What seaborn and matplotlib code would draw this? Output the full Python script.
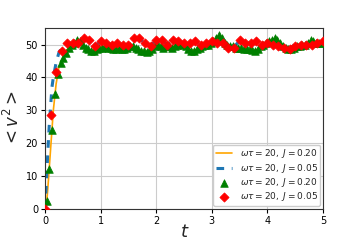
import numpy as np
import pandas as pd
import matplotlib
matplotlib.use("Agg")
import matplotlib.pyplot as plt
import seaborn as sns

# line series (J=0.20 orange solid, J=0.05 blue dashed)
t_line = [0, 0.025, 0.05, 0.075, 0.1, 0.125, 0.15, 0.2, 0.25, 0.3, 0.35, 0.4,
          0.5, 0.6, 0.7, 0.8, 0.9, 1.0, 1.1, 1.2, 1.3, 1.4, 1.5, 1.6, 1.7, 1.8, 1.9,
          2.0, 2.1, 2.2, 2.3, 2.4, 2.5, 2.6, 2.7, 2.8, 2.9, 3.0, 3.1, 3.2, 3.3, 3.4,
          3.5, 3.6, 3.7, 3.8, 3.9, 4.0, 4.1, 4.2, 4.3, 4.4, 4.5, 4.6, 4.7, 4.8, 4.9, 5.0]
orange_line = [0, 1, 6, 12, 18, 24, 30, 38, 43, 45, 47, 48.5,
               50, 51.2, 49.5, 48.2, 48.3, 49, 49.3, 48.8, 48.7, 48.6, 49.2, 49.3, 48.3, 47.9, 48.2,
               49.7, 49.3, 49.5, 49.2, 50.2, 49.8, 48.3, 48.2, 49.2, 50, 50.7, 52.3, 51.3, 49.8, 49.3,
               49, 48.5, 48.3, 48.2, 49.7, 50.7, 51.7, 51, 49.3, 48.5, 49.2, 49.7, 50.2, 51.3, 50.5, 50.5]
blue_line = [0, 8, 17, 25, 31, 37, 40, 44.5, 47.5, 49, 49.8, 50.3,
             50.3, 50.4, 51.5, 51.2, 49.8, 50.7, 50.4, 50, 50.3, 50, 50, 51.5, 51.6, 50.5, 49.8,
             51.2, 51.2, 50.1, 51.2, 50.8, 50.4, 50.4, 50.8, 50.1, 50.4, 50.8, 50.5, 50.4, 49.3, 49.3,
             51.1, 50.5, 50.4, 50.8, 50.1, 50.4, 50, 49.7, 49.4, 49.9, 49.6, 50, 50, 50.1, 50.4, 50.8]

# marker series
t_green = np.round(np.arange(0.03, 5.0, 0.05), 3)
green_vals = [2.5, 12, 24, 35, 41, 44.5, 46, 47.5, 49, 50,
              50.5, 51.5, 51, 50, 49, 48.5, 48, 48, 48.5, 49,
              49, 49.5, 49, 49, 48.5, 48.5, 49, 48.5, 48.5, 49,
              49.5, 49.5, 49, 48.5, 48, 48, 47.8, 48, 48.5, 49.5,
              50, 49.5, 49, 49.5, 49.5, 49, 49.5, 50, 50.5, 50,
              49.5, 48.5, 48, 48, 48.5, 49, 49.5, 50, 50, 50.5,
              51, 52, 52.8, 52, 50.5, 50, 49.5, 49.5, 49, 49,
              49, 48.5, 48.5, 48.5, 48.2, 48, 48.5, 49.5, 50, 50.5,
              51, 51.5, 52, 51.5, 50.5, 49.5, 49, 48.5, 48.5, 49,
              49.5, 49.5, 50, 50, 50.5, 51.5, 51, 50.5, 50.5, 50.5]
t_red = np.round(np.arange(0, 5.01, 0.1), 2)
red_vals = [0, 28.5, 41.5, 48, 50.5, 50.5, 50.5, 52, 51.5, 49.5,
            51, 50.5, 50, 50.5, 50, 50, 52, 52, 50.5, 49.5,
            51.5, 51.5, 50, 51.5, 51, 50.5, 50.5, 51, 50, 50.5,
            51, 50.5, 50.5, 49, 49, 51.5, 50.5, 50.5, 51, 50,
            50.5, 50, 49.5, 49, 48.5, 49.5, 50, 50, 50, 50.5, 51]

labels = [r"$\omega\tau = 20,\ J = 0.20$", r"$\omega\tau = 20,\ J = 0.05$",
          r"$\omega\tau = 20,\ J = 0.20$", r"$\omega\tau = 20,\ J = 0.05$"]

sns.set_style("ticks")
fig = plt.figure(figsize=(3.6, 2.4), dpi=100)
ax = fig.add_axes([0.125, 0.13, 0.772, 0.753])

sns.lineplot(x=t_line, y=orange_line, ax=ax, color="orange", lw=1.2, label=labels[0])
sns.lineplot(x=t_line, y=blue_line, ax=ax, color="#1f77b4", lw=2.2, label=labels[1])
ax.lines[1].set_linestyle((0, (2.5, 2.5)))
sns.scatterplot(x=t_green, y=green_vals, ax=ax, color="green", marker="^", s=30,
                edgecolor="green", linewidth=0.5, label=labels[2], zorder=3)
sns.scatterplot(x=t_red, y=red_vals, ax=ax, color="red", marker="D", s=22,
                edgecolor="red", linewidth=0.5, label=labels[3], zorder=4)

ax.set_xlim(0, 5)
ax.set_ylim(0, 55)
ax.set_xticks([0, 1, 2, 3, 4, 5])
ax.set_yticks([0, 10, 20, 30, 40, 50])
ax.tick_params(labelsize=7, length=3, width=0.8, colors="black", pad=2)
ax.grid(True, color="#cccccc", lw=0.8)
for s in ax.spines.values():
    s.set_color("#333333")
    s.set_linewidth(0.8)
ax.set_xlabel("t", fontsize=13, fontstyle="italic", family="DejaVu Sans", labelpad=-2)
ax.set_ylabel(r"$< v^2 >$", fontsize=12, labelpad=2)
leg = ax.legend(loc="lower right", fontsize=6.5, frameon=True, framealpha=1,
                handlelength=1.8, borderpad=0.3, labelspacing=0.15,
                borderaxespad=0.3, handletextpad=0.8)
fig.savefig("out.png", dpi=100)
